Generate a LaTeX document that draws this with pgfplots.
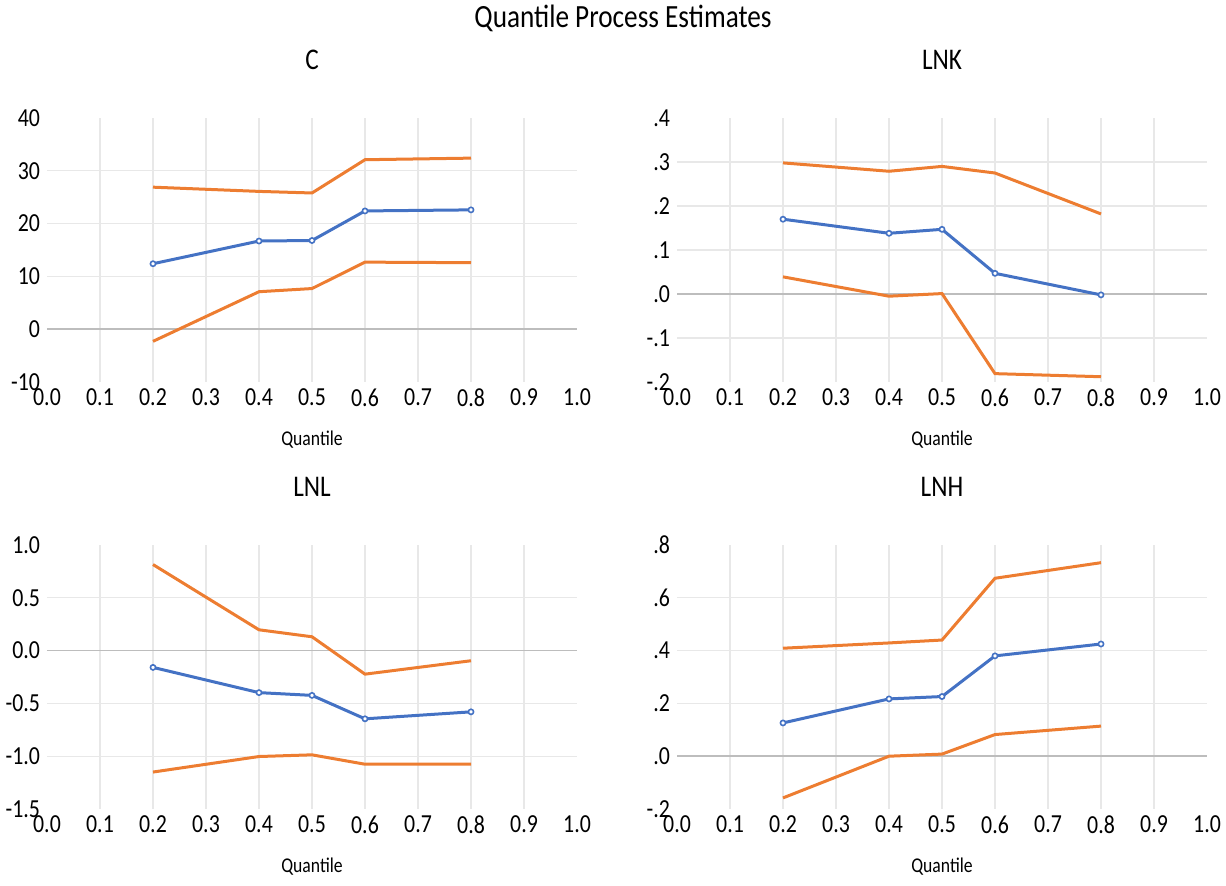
\documentclass[border=0pt]{standalone}
\usepackage{fontspec}
\setmainfont{Carlito}[FakeStretch=0.84]
\usepackage{pgfplots}
\pgfplotsset{compat=1.18}
\definecolor{exblue}{HTML}{4472C4}
\definecolor{exorange}{HTML}{ED7D31}
\definecolor{gridc}{HTML}{E8E8E8}
\definecolor{zeroc}{HTML}{BDBDBD}

\pgfplotsset{
  qp/.style={
    scale only axis, width=265pt, height=132pt,
    xmin=0, xmax=1,
    axis line style={draw=none},
    major tick length=0pt,
    xtick={0.1,0.2,0.3,0.4,0.5,0.6,0.7,0.8,0.9},
    xticklabels={0.1,0.2,0.3,0.4,0.5,0.6,0.7,0.8,0.9},
    extra x ticks={0,1}, extra x tick labels={0.0,1.0},
    extra x tick style={grid=none},
    extra y tick style={grid=none},
    xmajorgrids, ymajorgrids,
    major grid style={gridc, line width=0.55pt},
    tick label style={font=\fontsize{13}{15}\selectfont},
    title style={font=\fontsize{15}{18}\selectfont, at={(axis description cs:0.5,1)}, anchor=center, yshift=23pt},
    xlabel={Quantile},
    xlabel style={font=\fontsize{10.5}{12}\selectfont, at={(axis description cs:0.5,0)}, anchor=center, yshift=-29pt},
    clip=false,
  },
  ci/.style={exorange, line width=1.5pt, no markers},
  est/.style={exblue, line width=1.5pt, mark=*, mark size=1.3pt, mark options={fill=white, line width=0.8pt}},
  zl/.style={zeroc, line width=0.8pt, no markers, forget plot},
}

\begin{document}
\begin{tikzpicture}
\path[use as bounding box] (0,0) rectangle (613pt,442.5pt);
\node[font=\fontsize{16.2}{19}\selectfont] at (311.5pt,433.5pt) {Quantile Process Estimates};

% C
\begin{axis}[qp, at={(23.5pt,251.5pt)}, anchor=south west, title={C},
  ymin=-10, ymax=40, ytick={0,10,20,30}, yticklabels={0,10,20,30},
  extra y ticks={-10,40}, extra y tick labels={-10,40}]
\addplot[zl] coordinates {(0,0) (1,0)};
\addplot[ci] coordinates {(0.2,26.9) (0.4,26.1) (0.5,25.8) (0.6,32.1) (0.8,32.4)};
\addplot[ci] coordinates {(0.2,-2.3) (0.4,7.1) (0.5,7.7) (0.6,12.7) (0.8,12.6)};
\addplot[est] coordinates {(0.2,12.4) (0.4,16.7) (0.5,16.8) (0.6,22.4) (0.8,22.6)};
\end{axis}

% LNK
\begin{axis}[qp, at={(338.5pt,251.5pt)}, anchor=south west, title={LNK},
  ymin=-0.2, ymax=0.4, ytick={-0.1,0,0.1,0.2,0.3}, yticklabels={-.1,.0,.1,.2,.3},
  extra y ticks={-0.2,0.4}, extra y tick labels={-.2,.4}]
\addplot[zl] coordinates {(0,0) (1,0)};
\addplot[ci] coordinates {(0.2,0.298) (0.4,0.279) (0.5,0.290) (0.6,0.275) (0.8,0.182)};
\addplot[ci] coordinates {(0.2,0.039) (0.4,-0.005) (0.5,0.001) (0.6,-0.181) (0.8,-0.188)};
\addplot[est] coordinates {(0.2,0.170) (0.4,0.138) (0.5,0.147) (0.6,0.047) (0.8,-0.002)};
\end{axis}

% LNL
\begin{axis}[qp, at={(23.5pt,38pt)}, anchor=south west, title={LNL},
  ymin=-1.5, ymax=1.0, ytick={-1,-0.5,0,0.5}, yticklabels={-1.0,-0.5,0.0,0.5},
  extra y ticks={-1.5,1.0}, extra y tick labels={-1.5,1.0}]
\addplot[zl] coordinates {(0,0) (1,0)};
\addplot[ci] coordinates {(0.2,0.815) (0.4,0.197) (0.5,0.131) (0.6,-0.223) (0.8,-0.096)};
\addplot[ci] coordinates {(0.2,-1.150) (0.4,-1.003) (0.5,-0.987) (0.6,-1.076) (0.8,-1.076)};
\addplot[est] coordinates {(0.2,-0.159) (0.4,-0.398) (0.5,-0.424) (0.6,-0.646) (0.8,-0.580)};
\end{axis}

% LNH
\begin{axis}[qp, at={(338.5pt,38pt)}, anchor=south west, title={LNH},
  ymin=-0.2, ymax=0.8, ytick={0,0.2,0.4,0.6}, yticklabels={.0,.2,.4,.6},
  extra y ticks={-0.2,0.8}, extra y tick labels={-.2,.8}]
\addplot[zl] coordinates {(0,0) (1,0)};
\addplot[ci] coordinates {(0.2,0.409) (0.4,0.429) (0.5,0.440) (0.6,0.674) (0.8,0.733)};
\addplot[ci] coordinates {(0.2,-0.158) (0.4,0.0) (0.5,0.008) (0.6,0.082) (0.8,0.114)};
\addplot[est] coordinates {(0.2,0.126) (0.4,0.217) (0.5,0.226) (0.6,0.380) (0.8,0.425)};
\end{axis}
\end{tikzpicture}
\end{document}
